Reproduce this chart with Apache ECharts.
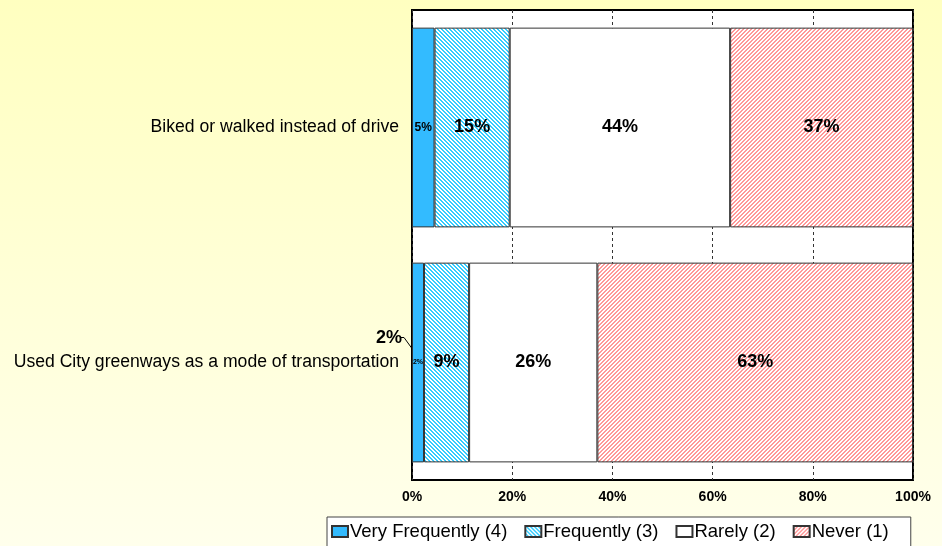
<!DOCTYPE html>
<html><head><meta charset="utf-8">
<script src="https://cdn.jsdelivr.net/npm/echarts@6/dist/echarts.min.js"></script>
<style>html,body{margin:0;padding:0;background:#fff}#c{width:942px;height:546px;}</style>
</head><body><div id="c"></div>
<script>
const categories = ['Biked or walked instead of drive', 'Used City greenways as a mode of transportation'];
const seriesNames = ['Very Frequently (4)', 'Frequently (3)', 'Rarely (2)', 'Never (1)'];
const veryFrequently = [4.5, 2.4];
const frequently = [15, 9];
const rarely = [44, 25.6];
const never = [36.5, 63];
const xTicks = [0, 20, 40, 60, 80, 100];

function hatch(color, dir) {
  const c = document.createElement('canvas'); c.width = 4; c.height = 4;
  const g = c.getContext('2d');
  g.fillStyle = '#fff'; g.fillRect(0, 0, 4, 4);
  g.fillStyle = color;
  for (let i = 0; i < 4; i++) {
    const x = dir > 0 ? i : 3 - i;
    g.fillRect(x, i, 1, 1); g.fillRect((x + 1) % 4, i, 1, 1);
  }
  return { image: c, repeat: 'repeat' };
}

const fills = ['#33BBFF', hatch('#33CCFF', 1), '#FFFFFF', hatch('#FF9999', -1)];
const values = [veryFrequently, frequently, rarely, never];
const FONT = 'Liberation Sans, Arial, sans-serif';

function labelSize(v) { return v >= 6 ? 18 : (v >= 3 ? 12 : 7); }

const chart = echarts.init(document.getElementById('c'));
const series = seriesNames.map((name, si) => ({
  name, type: 'bar', stack: 'all', barCategoryGap: '15%',
  itemStyle: { color: fills[si], borderColor: '#333', borderWidth: 1 },
  data: values[si].map(v => ({
    value: v,
    label: { fontSize: labelSize(v) }
  })),
  label: {
    show: true, position: 'inside', color: '#000', fontWeight: 'bold',
    fontFamily: FONT,
    formatter: p => Math.round(p.value) + '%'
  },
  emphasis: { disabled: true }
}));

chart.setOption({
  animation: false,
  backgroundColor: { type: 'linear', x: 0, y: 0, x2: 0, y2: 1,
    colorStops: [{ offset: 0, color: '#FFFFC0' }, { offset: 1, color: '#FFFFEC' }] },
  textStyle: { fontFamily: FONT },
  grid: { left: 412, right: 29, top: 10, bottom: 66, show: true,
    backgroundColor: '#fff', borderColor: '#000', borderWidth: 2 },
  legend: {
    left: 327, top: 517, data: seriesNames, icon: 'rect',
    backgroundColor: '#fff', borderColor: '#444', borderWidth: 1,
    padding: [5, 22, 10, 4], itemGap: 17, itemWidth: 16, itemHeight: 11,
    textStyle: { fontSize: 18.5, color: '#000', padding: [0, 0, 0, -3] },
    selectedMode: false
  },
  xAxis: {
    type: 'value', min: xTicks[0], max: xTicks[xTicks.length - 1], interval: xTicks[1] - xTicks[0],
    axisLine: { show: false }, axisTick: { show: false },
    axisLabel: { formatter: '{value}%', fontWeight: 'bold', fontSize: 14, color: '#000', margin: 10 },
    splitLine: { show: true, lineStyle: { type: [3, 3], color: '#333', width: 1 } }
  },
  yAxis: {
    type: 'category', data: categories, inverse: true,
    axisLine: { show: false }, axisTick: { show: false },
    axisLabel: { fontSize: 17.6, color: '#000', margin: 13 }
  },
  series
});

// outside callout for the tiny "Very Frequently" value of the second category
const p = chart.convertToPixel({ gridIndex: 0 }, [0, 1]);
chart.setOption({
  graphic: [
    { type: 'text', x: p[0] - 10, y: p[1] - 24, style: {
      text: Math.round(veryFrequently[1]) + '%', font: 'bold 18px ' + FONT,
      fill: '#000', align: 'right', verticalAlign: 'middle' } },
    { type: 'polyline', shape: { points: [[p[0] - 11, p[1] - 25], [p[0] - 8, p[1] - 25], [p[0], p[1] - 14]] },
      style: { stroke: '#000', lineWidth: 1, fill: null } }
  ]
});
</script></body></html>
